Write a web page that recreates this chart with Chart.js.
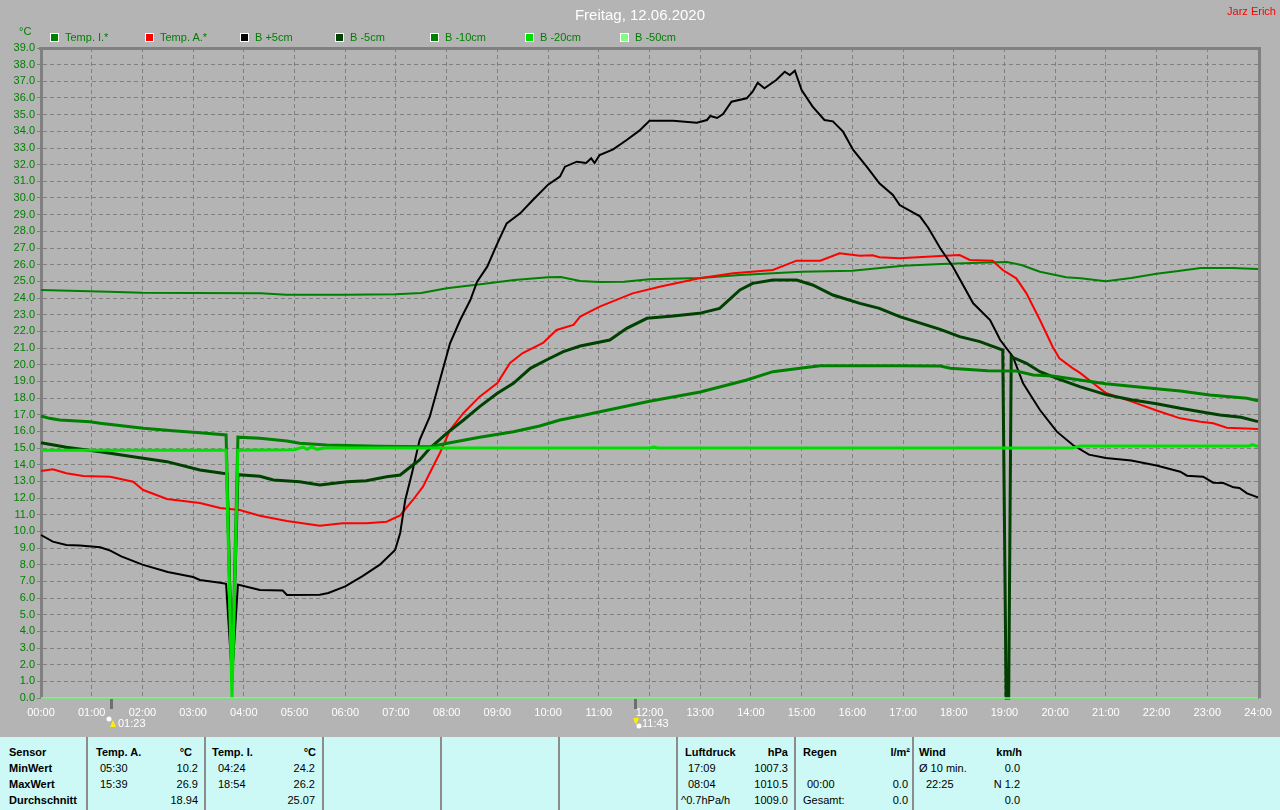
<!DOCTYPE html>
<html>
<head>
<meta charset="utf-8">
<title>Freitag, 12.06.2020</title>
<script src="https://cdn.jsdelivr.net/npm/chart.js@4.4.1/dist/chart.umd.min.js"></script>
<style>
body { margin: 0; background: #b4b4b4; font-family: "Liberation Sans", Arial, sans-serif; }
#wrap { position: relative; width: 1280px; height: 810px; overflow: hidden; }
#chartBox { position: absolute; left: 0; top: 0; width: 1280px; height: 737px; }
#title { position: absolute; left: 0; top: 6px; width: 1280px; text-align: center; color: #fff; font-size: 15px; line-height: 18px; }
#owner { position: absolute; right: 4px; top: 5px; color: #f00; font-size: 11px; line-height: 13px; }
#unit { position: absolute; left: 19px; top: 25px; color: #008000; font-size: 11px; line-height: 13px; }
.lg { position: absolute; top: 31px; font-size: 11px; line-height: 13px; color: #008000; white-space: nowrap; }
.lg i { position: absolute; left: 0; top: 2px; width: 9px; height: 9px; box-sizing: border-box; border: 1px solid #fff; }
.lg span { position: absolute; left: 15px; top: 0; }
#tbl { position: absolute; left: 0; top: 737px; width: 1280px; height: 73px; background: #ccf9f5; }
.sep { position: absolute; top: 0; width: 2px; height: 73px; background: #8c8c8c; }
.t { position: absolute; font-size: 11px; line-height: 16px; white-space: nowrap; color: #000; }
.b { font-weight: bold; }
</style>
</head>
<body>
<div id="wrap">
	<div id="chartBox"><canvas id="chart" width="1280" height="737"></canvas></div>
	<div id="title">Freitag, 12.06.2020</div>
	<div id="owner">Jarz Erich</div>
	<div id="unit">°C</div>
	<div id="legend"></div>
	<div id="tbl"></div>
</div>
<script>
// series names and data (time of day, value in °C)
var seriesNames = [ 'Temp. I.*', 'Temp. A.*', 'B +5cm', 'B -5cm', 'B -10cm', 'B -20cm', 'B -50cm' ];

var tempITimes = [ '00:00', '01:20', '02:00', '03:00', '04:20', '04:50', '06:00', '07:00', '07:30', '08:00',
		'08:40', '09:20', '10:00', '10:15', '10:38', '11:00', '11:30', '12:00', '13:00', '13:47', '15:00',
		'16:00', '16:30', '17:00', '17:45', '18:30', '19:03', '19:20', '19:42', '20:13', '20:30', '21:00',
		'21:30', '22:00', '22:28', '22:52', '23:30', '24:00' ];
var tempIValues = [ 24.48, 24.38, 24.32, 24.3, 24.28, 24.2, 24.2, 24.22, 24.3, 24.58,
		24.82, 25.08, 25.24, 25.26, 25.02, 24.96, 24.98, 25.12, 25.2, 25.38, 25.58,
		25.64, 25.78, 25.94, 26.04, 26.12, 26.16, 25.98, 25.58, 25.24, 25.18, 25.0,
		25.2, 25.45, 25.64, 25.8, 25.8, 25.74 ];

var tempATimes = [ '00:00', '00:14', '00:30', '00:50', '01:22', '01:49', '02:01', '02:29', '03:08', '03:32',
		'03:55', '04:19', '04:51', '05:30', '05:57', '06:25', '06:49', '07:05', '07:20', '07:32', '07:40',
		'07:52', '08:04', '08:20', '08:39', '09:00', '09:15', '09:30', '09:54', '10:10', '10:30', '10:38',
		'11:01', '11:40', '12:12', '12:59', '13:39', '14:26', '14:54', '15:22', '15:45', '16:09', '16:24',
		'16:32', '16:56', '17:44', '18:07', '18:19', '18:46', '18:58', '19:14', '19:26', '19:42', '19:57',
		'20:05', '20:21', '20:29', '21:00', '21:30', '22:00', '22:28', '22:52', '23:07', '23:23', '24:00' ];
var tempAValues = [ 13.62, 13.72, 13.48, 13.32, 13.28, 12.98, 12.48, 11.94, 11.7, 11.4,
		11.28, 10.94, 10.62, 10.34, 10.48, 10.48, 10.58, 10.95, 11.88, 12.68, 13.5,
		14.7, 16.08, 17.1, 18.08, 18.9, 20.1, 20.7, 21.3, 22.08, 22.38, 22.88,
		23.48, 24.28, 24.68, 25.18, 25.48, 25.68, 26.24, 26.24, 26.68, 26.54, 26.56,
		26.44, 26.38, 26.52, 26.58, 26.28, 26.24, 25.68, 25.18, 24.28, 22.68, 21.08,
		20.38, 19.78, 19.52, 18.3, 17.8, 17.25, 16.78, 16.58, 16.48, 16.22, 16.14 ];

var bPlus5Times = [ '00:00', '00:14', '00:30', '00:46', '01:10', '01:22', '01:35', '02:00', '02:30', '03:00',
		'03:08', '03:32', '03:39', '03:46', '03:53', '03:55', '04:19', '04:46', '04:51', '05:30', '05:40',
		'06:00', '06:20', '06:41', '06:59', '07:05', '07:11', '07:19', '07:28', '07:40', '07:52', '08:04',
		'08:16', '08:28', '08:36', '08:48', '09:00', '09:11', '09:27', '09:42', '10:00', '10:14', '10:20',
		'10:34', '10:45', '10:51', '10:55', '11:01', '11:17', '11:33', '11:48', '12:00', '12:28', '12:56',
		'13:08', '13:12', '13:20', '13:27', '13:37', '13:55', '14:02', '14:08', '14:16', '14:30', '14:40',
		'14:46', '14:52', '15:00', '15:13', '15:27', '15:37', '15:49', '16:01', '16:17', '16:32', '16:48',
		'16:56', '17:20', '17:30', '17:44', '17:59', '18:23', '18:43', '18:55', '19:10', '19:22', '19:42',
		'20:02', '20:21', '20:40', '21:00', '21:30', '22:00', '22:28', '22:36', '22:55', '23:07', '23:19',
		'23:31', '23:38', '23:47', '24:00' ];
var bPlus5Values = [ 9.78, 9.38, 9.18, 9.15, 9.04, 8.84, 8.5, 8.0, 7.56, 7.26,
		7.08, 6.92, 6.85, 1.2, 6.8, 6.78, 6.48, 6.45, 6.18, 6.2, 6.3,
		6.7, 7.3, 8.0, 8.88, 9.9, 11.88, 13.5, 15.48, 16.88, 19.08, 21.28,
		22.68, 23.88, 24.98, 25.88, 27.28, 28.48, 29.08, 29.88, 30.8, 31.28, 31.88,
		32.18, 32.1, 32.38, 32.1, 32.58, 32.92, 33.48, 34.04, 34.64, 34.64, 34.52,
		34.68, 34.92, 34.8, 35.04, 35.78, 35.98, 36.38, 36.92, 36.58, 37.08, 37.58,
		37.38, 37.64, 36.48, 35.48, 34.68, 34.6, 33.98, 32.88, 31.88, 30.88, 30.18,
		29.58, 28.9, 28.2, 26.98, 25.88, 23.68, 22.68, 21.48, 20.48, 18.88, 17.28,
		15.98, 15.18, 14.6, 14.4, 14.25, 13.95, 13.58, 13.34, 13.28, 12.92, 12.9,
		12.64, 12.6, 12.28, 12.04 ];

var bMinus5Times = [ '00:00', '00:30', '01:10', '01:49', '02:29', '03:08', '03:35', '03:40', '03:46', '03:53',
		'04:19', '04:35', '05:06', '05:30', '06:02', '06:25', '06:49', '07:05', '07:20', '07:28', '07:40',
		'08:00', '08:20', '08:39', '09:00', '09:19', '09:39', '09:58', '10:18', '10:38', '11:13', '11:33',
		'11:57', '12:28', '12:59', '13:23', '13:47', '14:02', '14:26', '14:54', '15:13', '15:37', '16:09',
		'16:32', '16:56', '17:44', '18:07', '18:31', '18:58', '19:02', '19:05', '19:08', '19:26', '19:42',
		'20:02', '20:29', '21:00', '21:30', '22:00', '22:28', '22:52', '23:15', '23:40', '24:00' ];
var bMinus5Values = [ 15.32, 15.04, 14.78, 14.48, 14.18, 13.68, 13.48, 13.45, 1.0, 13.4,
		13.3, 13.08, 12.98, 12.78, 12.98, 13.04, 13.28, 13.38, 13.98, 14.28, 14.98,
		15.88, 16.68, 17.48, 18.28, 18.88, 19.78, 20.28, 20.78, 21.12, 21.48, 22.18,
		22.78, 22.92, 23.08, 23.38, 24.48, 24.88, 25.08, 25.08, 24.78, 24.18, 23.68,
		23.38, 22.88, 22.12, 21.68, 21.38, 20.88, 0, 0, 20.48, 20.08, 19.58,
		19.18, 18.68, 18.2, 17.9, 17.65, 17.38, 17.18, 16.98, 16.84, 16.58 ];

var bMinus10Times = [ '00:00', '00:10', '00:22', '00:58', '01:10', '02:01', '02:36', '03:08', '03:39', '03:46',
		'03:53', '04:19', '04:51', '05:06', '05:38', '06:41', '07:40', '08:04', '08:39', '09:19', '09:50',
		'10:14', '10:38', '11:00', '12:00', '13:00', '13:55', '14:26', '14:58', '15:22', '16:56', '17:44',
		'17:56', '18:40', '19:14', '19:34', '19:57', '20:29', '21:00', '21:30', '22:00', '22:28', '23:03',
		'23:47', '24:00' ];
var bMinus10Values = [ 16.92, 16.78, 16.68, 16.58, 16.48, 16.18, 16.04, 15.92, 15.78, 1.0,
		15.65, 15.58, 15.42, 15.28, 15.18, 15.1, 15.08, 15.32, 15.64, 15.98, 16.32,
		16.68, 16.92, 17.16, 17.8, 18.36, 19.08, 19.58, 19.78, 19.94, 19.94, 19.92,
		19.78, 19.64, 19.62, 19.38, 19.32, 19.08, 18.85, 18.7, 18.55, 18.42, 18.18,
		17.98, 17.84 ];

var bMinus20Times = [ '00:00', '03:39', '03:46', '03:53', '05:00', '05:10', '05:15', '05:20', '05:27', '05:35',
		'12:00', '12:05', '12:10', '20:20', '20:30', '23:50', '23:53', '23:58', '24:00' ];
var bMinus20Values = [ 14.86, 14.86, 0, 14.86, 14.9, 15.05, 14.92, 15.06, 14.92, 15.0,
		15.0, 15.06, 15.0, 15.0, 15.12, 15.12, 15.2, 15.12, 15.12 ];

var bMinus50Times = [ '00:00', '24:00' ];
var bMinus50Values = [ 0, 0 ];

// moon rise / set below the time axis
var moonTimes = [ '01:23', '11:43' ];
var moonRising = [ true, false ];

// axis ticks
var hourTicks = [ 0, 24, 1 ];
var tempTicks = [ 0, 39, 1 ];

(function() {
	'use strict';

	function toHours(t) {
		var p = t.split(':');
		return parseInt(p[0], 10) + parseInt(p[1], 10) / 60;
	}

	function points(times, values) {
		return times.map(function(t, i) {
			return { x : toHours(t), y : values[i] };
		});
	}

	function pad(n) {
		return (n < 10 ? '0' : '') + n;
	}

	var seriesData = [ points(tempITimes, tempIValues), points(tempATimes, tempAValues),
			points(bPlus5Times, bPlus5Values), points(bMinus5Times, bMinus5Values),
			points(bMinus10Times, bMinus10Values), points(bMinus20Times, bMinus20Values),
			points(bMinus50Times, bMinus50Values) ];
	var lineColors = [ '#008000', '#ff0000', '#000000', '#004000', '#008000', '#00e000', '#80ff80' ];
	var lineWidths = [ 2, 2, 2, 3, 3, 3, 1.5 ];

	// legend
	var legendX = [ 50, 145, 240, 335, 430, 525, 620 ];
	var legendHtml = '';
	seriesNames.forEach(function(name, i) {
		legendHtml += '<div class="lg" style="left:' + legendX[i] + 'px"><i style="background:'
				+ lineColors[i] + '"></i><span>' + name + '</span></div>';
	});
	document.getElementById('legend').innerHTML = legendHtml;

	// statistics table under the chart
	var seps = [ 87, 205, 323, 441, 559, 677, 795, 913 ];
	var cells = [
		[ 0, 'L', 9, 'Sensor', 1 ], [ 0, 'L', 96, 'Temp. A.', 1 ], [ 0, 'R', 192, '°C', 1 ],
		[ 0, 'L', 212, 'Temp. I.', 1 ], [ 0, 'R', 316, '°C', 1 ], [ 0, 'L', 685, 'Luftdruck', 1 ],
		[ 0, 'R', 788, 'hPa', 1 ], [ 0, 'L', 803, 'Regen', 1 ], [ 0, 'R', 910, 'l/m²', 1 ],
		[ 0, 'L', 919, 'Wind', 1 ], [ 0, 'R', 1022, 'km/h', 1 ],
		[ 1, 'L', 9, 'MinWert', 1 ], [ 1, 'L', 100, '05:30', 0 ], [ 1, 'R', 198, '10.2', 0 ],
		[ 1, 'L', 218, '04:24', 0 ], [ 1, 'R', 315, '24.2', 0 ], [ 1, 'L', 688, '17:09', 0 ],
		[ 1, 'R', 788, '1007.3', 0 ], [ 1, 'L', 919, 'Ø 10 min.', 0 ], [ 1, 'R', 1020, '0.0', 0 ],
		[ 2, 'L', 9, 'MaxWert', 1 ], [ 2, 'L', 100, '15:39', 0 ], [ 2, 'R', 198, '26.9', 0 ],
		[ 2, 'L', 218, '18:54', 0 ], [ 2, 'R', 315, '26.2', 0 ], [ 2, 'L', 688, '08:04', 0 ],
		[ 2, 'R', 788, '1010.5', 0 ], [ 2, 'L', 807, '00:00', 0 ], [ 2, 'R', 908, '0.0', 0 ],
		[ 2, 'L', 926, '22:25', 0 ], [ 2, 'R', 1020, 'N 1.2', 0 ],
		[ 3, 'L', 9, 'Durchschnitt', 1 ], [ 3, 'R', 198, '18.94', 0 ], [ 3, 'R', 315, '25.07', 0 ],
		[ 3, 'L', 681, '^0.7hPa/h', 0 ], [ 3, 'R', 788, '1009.0', 0 ], [ 3, 'L', 803, 'Gesamt:', 0 ],
		[ 3, 'R', 908, '0.0', 0 ], [ 3, 'R', 1020, '0.0', 0 ] ];
	var rowTop = [ 7, 23, 39, 55 ];
	var tblHtml = '';
	seps.forEach(function(x) {
		tblHtml += '<div class="sep" style="left:' + (x - 1) + 'px"></div>';
	});
	cells.forEach(function(c) {
		var pos = c[1] == 'L' ? 'left:' + c[2] + 'px' : 'right:' + (1280 - c[2]) + 'px';
		tblHtml += '<div class="t' + (c[4] ? ' b' : '') + '" style="top:' + rowTop[c[0]] + 'px;' + pos
				+ '">' + c[3] + '</div>';
	});
	document.getElementById('tbl').innerHTML = tblHtml;

	// thick frame on top/right and the moon markers under the axis
	var framePlugin = {
		id : 'frame',
		beforeDatasetsDraw : function(chart) {
			var a = chart.chartArea, ctx = chart.ctx;
			ctx.save();
			ctx.fillStyle = '#808080';
			ctx.fillRect(a.left - 2, a.top - 1, a.right - a.left + 5, 3);
			ctx.fillRect(a.right, a.top - 1, 3, a.bottom - a.top + 1);
			ctx.restore();
		},
		afterDraw : function(chart) {
			var a = chart.chartArea, ctx = chart.ctx, xs = chart.scales.x;
			ctx.save();
			moonTimes.forEach(function(t, i) {
				var px = Math.round(xs.getPixelForValue(toHours(t)));
				ctx.fillStyle = '#6e6e6e';
				ctx.fillRect(px - 1, a.bottom + 1, 3, 10);
				var dotY = moonRising[i] ? 719 : 726;
				ctx.fillStyle = '#ffffff';
				ctx.beginPath();
				ctx.arc(moonRising[i] ? px - 2 : px + 4, dotY, 2.5, 0, Math.PI * 2);
				ctx.fill();
				ctx.fillStyle = '#ffee00';
				ctx.beginPath();
				if (moonRising[i]) {
					ctx.moveTo(px + 2, 720);
					ctx.lineTo(px + 5, 727);
					ctx.lineTo(px - 1, 727);
				} else {
					ctx.moveTo(px - 2, 718);
					ctx.lineTo(px + 4, 718);
					ctx.lineTo(px + 1, 725);
				}
				ctx.closePath();
				ctx.fill();
				ctx.fillStyle = '#ffffff';
				ctx.font = '11px "Liberation Sans", Arial, sans-serif';
				ctx.textBaseline = 'middle';
				ctx.fillText(t, px + 7, 724);
			});
			ctx.restore();
		}
	};

	Chart.defaults.font.family = '"Liberation Sans", Arial, sans-serif';
	Chart.defaults.font.size = 11;

	var datasets = seriesNames.map(function(name, i) {
		return {
			label : name,
			data : seriesData[i],
			borderColor : lineColors[i],
			backgroundColor : lineColors[i],
			borderWidth : lineWidths[i],
			pointRadius : 0,
			tension : 0,
			fill : false,
			clip : false,
			order : seriesNames.length - i
		};
	});

	new Chart(document.getElementById('chart'), {
		type : 'line',
		data : { datasets : datasets },
		plugins : [ framePlugin ],
		options : {
			responsive : false,
			animation : false,
			events : [],
			layout : { padding : { top : 48, right : 22, left : 0, bottom : 0 } },
			plugins : {
				legend : { display : false },
				tooltip : { enabled : false }
			},
			scales : {
				x : {
					type : 'linear',
					min : hourTicks[0],
					max : hourTicks[1],
					afterFit : function(scale) { scale.height = 39; },
					grid : { color : '#808080', lineWidth : 1, drawTicks : false },
					border : { display : true, color : '#808080', width : 1, dash : [ 4, 3 ] },
					ticks : {
						stepSize : hourTicks[2],
						autoSkip : false,
						maxRotation : 0,
						padding : 8,
						color : '#ffffff',
						callback : function(v) { return pad(v) + ':00'; }
					}
				},
				y : {
					type : 'linear',
					min : tempTicks[0],
					max : tempTicks[1],
					afterFit : function(scale) { scale.width = 41; },
					grid : { color : '#808080', lineWidth : 1, drawTicks : true, tickLength : 4,
						tickColor : '#808080', tickBorderDash : [] },
					border : { display : true, color : '#808080', width : 3, dash : [ 4, 3 ] },
					ticks : {
						stepSize : tempTicks[2],
						autoSkip : false,
						padding : 2,
						color : '#008000',
						callback : function(v) { return v.toFixed(1); }
					}
				}
			}
		}
	});
})();
</script>
</body>
</html>
